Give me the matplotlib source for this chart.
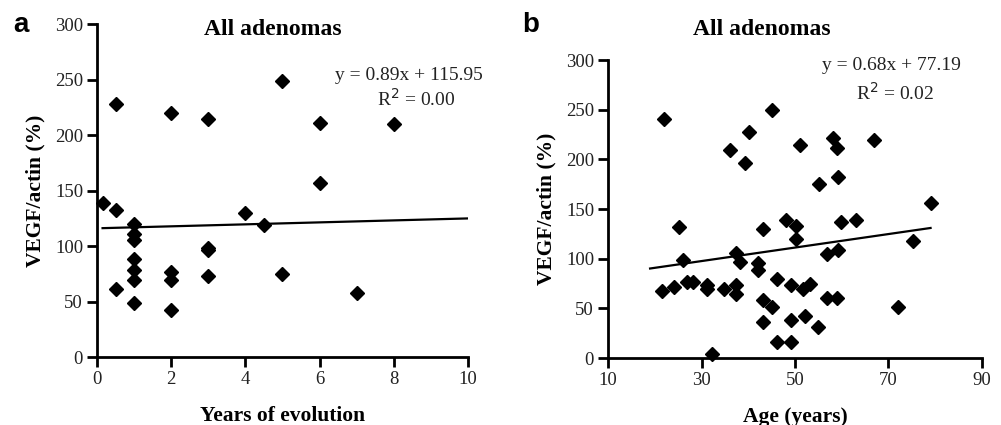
import matplotlib
matplotlib.use("Agg")
import matplotlib.pyplot as plt
import numpy as np

# Panel a: VEGF/actin vs years of evolution
years = [0.15, 0.5, 0.5, 0.5, 1, 1, 1, 1, 1, 1, 1, 2, 2, 2, 2, 3, 3, 3, 3,
         4, 4.5, 5, 5, 6, 6, 7, 8]
vegf_a = [139, 132, 228, 61, 120, 111, 105, 88, 78, 69, 49, 220, 77, 69, 42,
          214, 98, 96, 73, 130, 119, 249, 75, 211, 157, 58, 210]
slope_a, icept_a, r2_a = 0.89, 115.95, 0.00
fit_range_a = [0.15, 10]

# Panel b: VEGF/actin vs age
age = [21.5, 22.0, 24.1, 25.2, 26.1, 27.0, 28.1, 31.1, 31.1, 32.2, 34.9,
       36.1, 37.3, 37.3, 37.3, 38.2, 39.3, 40.2, 42.0, 42.0, 43.2, 43.2,
       43.2, 45.0, 45.1, 46.2, 46.2, 48.0, 49.1, 49.1, 49.1, 50.3, 50.3,
       51.0, 51.7, 52.1, 53.3, 55.0, 55.2, 56.9, 56.9, 58.1, 59.0, 59.0,
       59.2, 59.2, 59.9, 63.0, 66.8, 72.0, 75.2, 79.0]
vegf_b = [67, 241, 71, 132, 99, 77, 77, 74, 69, 4, 69,
          209, 106, 74, 64, 97, 196, 228, 96, 89, 130, 58,
          36, 250, 51, 80, 16, 139, 16, 74, 38, 133, 120,
          214, 69, 42, 75, 31, 175, 105, 60, 221, 211, 60,
          109, 182, 137, 139, 219, 51, 118, 156]
slope_b, icept_b, r2_b = 0.68, 77.19, 0.02
fit_range_b = [19, 79]

serif = "Liberation Serif"
sans = "Liberation Sans"

fig = plt.figure(figsize=(10.01, 4.25), dpi=100)
ax_a = fig.add_axes([0.0969, 0.160, 0.3706, 0.7835])
ax_b = fig.add_axes([0.6074, 0.1576, 0.3736, 0.7012])


def style_axes(ax, xlim, xticks):
    ax.set_xlim(*xlim)
    ax.set_ylim(0, 300)
    ax.set_xticks(xticks)
    ax.set_yticks(np.arange(0, 301, 50))
    for side in ("top", "right"):
        ax.spines[side].set_visible(False)
    for side in ("left", "bottom"):
        ax.spines[side].set_linewidth(2.0)
    ax.tick_params(direction="out", length=7, width=2.0, pad=3,
                   labelsize=13.5, colors="black")
    for lab in ax.get_xticklabels() + ax.get_yticklabels():
        lab.set_family(serif)
        lab.set_color("#222222")
    ax.set_ylabel("VEGF/actin (%)", family=serif, fontweight="bold",
                  fontsize=15.5, labelpad=7)


def draw_fit(ax, slope, icept, xr):
    xs = np.array(xr, dtype=float)
    ax.plot(xs, slope * xs + icept, color="black", lw=1.6, zorder=2)


# Panel a
style_axes(ax_a, (0, 10), np.arange(0, 11, 2))
ax_a.plot(years, vegf_a, "D", color="black", markersize=7.5, zorder=3,
          clip_on=False)
draw_fit(ax_a, slope_a, icept_a, fit_range_a)
ax_a.set_xlabel("Years of evolution", family=serif, fontweight="bold",
                fontsize=15.5, labelpad=13)
fig.text(0.2727, 0.918, "All adenomas", family=serif, fontweight="bold",
         fontsize=17, ha="center", va="baseline")
fig.text(0.408, 0.812, f"y = {slope_a:.2f}x + {icept_a:.2f}", family=serif,
         fontsize=14, ha="center", va="baseline", color="#222222")
fig.text(0.416, 0.750, f"R$^2$ = {r2_a:.2f}", family=serif,
         fontsize=14, ha="center", va="baseline", color="#222222")
fig.text(0.013, 0.925, "a", family=sans, fontweight="bold", fontsize=20,
         ha="left", va="baseline")

# Panel b
style_axes(ax_b, (10, 90), np.arange(10, 91, 20))
ax_b.plot(age, vegf_b, "D", color="black", markersize=7.5, zorder=3,
          clip_on=False)
draw_fit(ax_b, slope_b, icept_b, fit_range_b)
ax_b.set_xlabel("Age (years)", family=serif, fontweight="bold",
                fontsize=15.5, labelpad=13)
fig.text(0.761, 0.918, "All adenomas", family=serif, fontweight="bold",
         fontsize=17, ha="center", va="baseline")
fig.text(0.891, 0.835, f"y = {slope_b:.2f}x + {icept_b:.2f}", family=serif,
         fontsize=14, ha="center", va="baseline", color="#222222")
fig.text(0.894, 0.765, f"R$^2$ = {r2_b:.2f}", family=serif,
         fontsize=14, ha="center", va="baseline", color="#222222")
fig.text(0.522, 0.925, "b", family=sans, fontweight="bold", fontsize=20,
         ha="left", va="baseline")

fig.savefig("out.png", dpi=100, facecolor="white")
